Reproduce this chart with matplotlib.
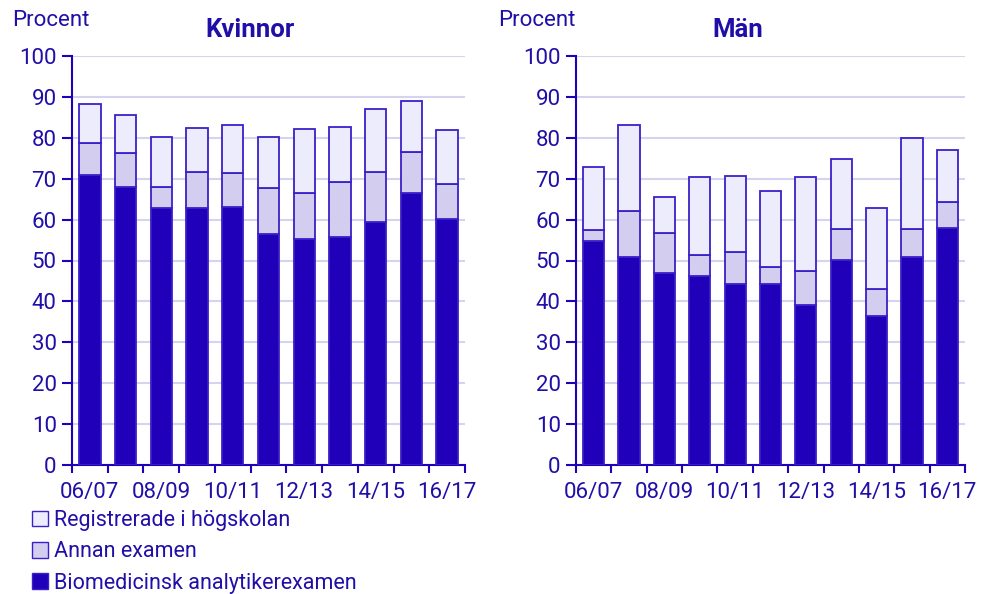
import matplotlib
matplotlib.use("Agg")
from matplotlib import pyplot as plt
from matplotlib.patches import Patch
import numpy as np

plt.rcParams['font.family'] = ['Roboto', 'DejaVu Sans']

years = ["06/07", "07/08", "08/09", "09/10", "10/11", "11/12",
         "12/13", "13/14", "14/15", "15/16", "16/17"]

# cumulative tops
kv_bio = [70.9, 68.0, 62.8, 62.8, 63.0, 56.5, 55.3, 55.7, 59.4, 66.5, 60.1]
kv_annan_top = [78.7, 76.3, 68.0, 71.6, 71.4, 67.7, 66.5, 69.2, 71.6, 76.5, 68.7]
kv_total = [88.3, 85.6, 80.2, 82.4, 83.1, 80.2, 82.2, 82.6, 87.0, 89.0, 81.9]

man_bio = [54.7, 50.8, 47.0, 46.2, 44.2, 44.2, 39.0, 50.1, 36.5, 50.8, 58.0]
man_annan_top = [57.5, 62.0, 56.7, 51.4, 52.0, 48.4, 47.5, 57.6, 43.0, 57.7, 64.3]
man_total = [72.8, 83.2, 65.5, 70.5, 70.6, 67.0, 70.3, 74.8, 62.9, 80.0, 77.1]

labels = ["Registrerade i högskolan", "Annan examen", "Biomedicinsk analytikerexamen"]

txt = "#1f0fa8"
dark = "#2000b8"
mid = "#d3cdf0"
light = "#ececfc"
edge = "#3a20c8"
spine = "#2000b8"
grid = "#d4d4ef"

fig = plt.figure(figsize=(9.84, 5.94), dpi=100)
ax1 = fig.add_axes([72/984, 1-465/594, (465-72)/984, (465-56)/594])
ax2 = fig.add_axes([576/984, 1-465/594, (965-576)/984, (465-56)/594])

def draw(ax, bio, annan_top, total):
    x = np.arange(len(years))
    bio = np.array(bio)
    annan = np.array(annan_top) - bio
    reg = np.array(total) - np.array(annan_top)
    ax.bar(x, bio, 0.6, color=dark, edgecolor=edge, linewidth=1.3, zorder=3)
    ax.bar(x, annan, 0.6, bottom=bio, color=mid, edgecolor=edge, linewidth=1.3, zorder=3)
    ax.bar(x, reg, 0.6, bottom=bio + annan, color=light, edgecolor=edge, linewidth=1.3, zorder=3)
    ax.set_xlim(-0.5, len(years) - 0.5)
    ax.set_ylim(0, 100)
    ax.set_yticks(range(0, 101, 10))
    ax.yaxis.grid(True, color=grid, linewidth=1.5, zorder=0)
    ax.set_xticks(x[::2])
    ax.set_xticklabels(years[::2])
    ax.set_xticks(np.arange(-0.5, len(years)), minor=True)
    ax.tick_params(axis='x', which='major', length=0, pad=12, labelsize=16, labelcolor=txt)
    ax.tick_params(axis='x', which='minor', length=6, width=1.5, color=spine)
    ax.tick_params(axis='y', length=7, width=1.5, color=spine, labelsize=16, labelcolor=txt, pad=4)
    for s in ['top', 'right']:
        ax.spines[s].set_visible(False)
    for s in ['left', 'bottom']:
        ax.spines[s].set_color(spine)
        ax.spines[s].set_linewidth(1.5)

draw(ax1, kv_bio, kv_annan_top, kv_total)
draw(ax2, man_bio, man_annan_top, man_total)

fig.text(12/984, 1-20/594, "Procent", fontsize=16, color=txt, va='center')
fig.text(498/984, 1-20/594, "Procent", fontsize=16, color=txt, va='center')
fig.text(250/984, 1-30/594, "Kvinnor", fontsize=18.5, color=txt, weight='bold', ha='center', va='center')
fig.text(738/984, 1-30/594, "Män", fontsize=18.5, color=txt, weight='bold', ha='center', va='center')

handles = [Patch(facecolor=light, edgecolor=edge),
           Patch(facecolor=mid, edgecolor=edge),
           Patch(facecolor=dark, edgecolor=edge)]
leg = fig.legend(handles, labels, loc='upper left', bbox_to_anchor=(32/984, 1-510/594),
                 frameon=False, fontsize=15.5, handlelength=0.75, handleheight=0.75,
                 handletextpad=0.25, labelspacing=0.48, borderpad=0, borderaxespad=0)
for t in leg.get_texts():
    t.set_color(txt)

fig.savefig("out.png", dpi=100)
